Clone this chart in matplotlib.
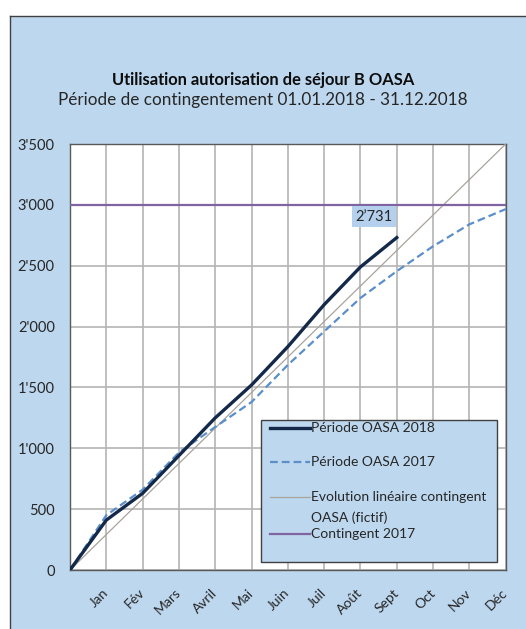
import numpy as np
import matplotlib
matplotlib.use('Agg')
import matplotlib.pyplot as plt
from matplotlib.lines import Line2D
from matplotlib.ticker import FuncFormatter

# values (month index 0 = start, 1 = Jan ... 12 = Dec)
months = ['Jan', 'Fév', 'Mars', 'Avril', 'Mai', 'Juin', 'Juil', 'Août', 'Sept', 'Oct', 'Nov', 'Déc']
oasa_2018 = [0, 410, 630, 940, 1250, 1520, 1835, 2180, 2490, 2731]
oasa_2017 = [0, 450, 660, 965, 1175, 1380, 1685, 1960, 2235, 2455, 2660, 2840, 2965]
lineaire_x = [0, 12]
lineaire_y = [0, 3500]
contingent = 3000

BG = '#BDD7EE'
TXT = '#262626'
plt.rcParams['font.family'] = ['Lato', 'DejaVu Sans']

W, H = 526, 629
fig = plt.figure(figsize=(W/100, H/100), dpi=100)
fig.patch.set_facecolor('white')

def fx(px):
    return px / W

def fy(py):
    return 1 - py / H

# outer chart frame (only left/top edges visible in the crop)
fig.patches.append(plt.Rectangle((fx(10), 0), 1, fy(16), transform=fig.transFigure,
                                 facecolor=BG, edgecolor='none', zorder=-5))
fig.add_artist(Line2D([fx(10), fx(10)], [0, fy(16)], transform=fig.transFigure, color='#404040', lw=1, zorder=-4))
fig.add_artist(Line2D([fx(10), 1], [fy(16), fy(16)], transform=fig.transFigure, color='#404040', lw=1, zorder=-4))

ax = fig.add_axes([fx(70), 59/H, 435.7/W, 426/H])
ax.set_facecolor('white')

x18 = np.arange(len(oasa_2018))
x17 = np.arange(len(oasa_2017))

styles = {
    'Période OASA 2018': dict(color='#14294A', lw=2.4),
    'Période OASA 2017': dict(color='#5B8FCC', lw=1.6, ls=(0, (3.5, 1.8))),
    'lin': dict(color='#A8A49C', lw=0.9),
    'Contingent 2017': dict(color='#8064A2', lw=1.6),
}

ax.plot(lineaire_x, lineaire_y, zorder=3, **styles['lin'])
ax.axhline(contingent, zorder=3, **styles['Contingent 2017'])
ax.plot(x17, oasa_2017, zorder=4, **styles['Période OASA 2017'])
ax.plot(x18, oasa_2018, zorder=5, **styles['Période OASA 2018'])

ax.set_xlim(0, 12)
ax.set_ylim(0, 3500)
ax.set_xticks(range(1, 13))
ax.set_xticklabels(months, rotation=45, ha='right', va='center', rotation_mode='anchor',
                   fontsize=10, color=TXT)
ax.set_yticks(range(0, 3501, 500))
ax.yaxis.set_major_formatter(FuncFormatter(lambda v, p: f"{int(v):,}".replace(',', "'")))
ax.tick_params(axis='y', labelsize=10.5, colors=TXT, length=0, pad=11)
ax.tick_params(axis='x', length=0, pad=15)
ax.grid(True, color='#B4B4B4', lw=1.2, zorder=1)
ax.set_axisbelow(True)
for s in ax.spines.values():
    s.set_color('#595959')
    s.set_linewidth(1)

# end label
ax.annotate("2\u2019731", (x18[-1], oasa_2018[-1]), xytext=(-23, 21), textcoords='offset pixels',
            ha='center', va='center', fontsize=10.5, color=TXT,
            bbox=dict(boxstyle='square,pad=0.25', facecolor='#B4D0EC', edgecolor='none'))

fig.text(0.5, fy(80), 'Utilisation autorisation de séjour B OASA', ha='center', va='center',
         fontsize=11.9, fontweight='bold', color='#0d0d0d')
fig.text(0.5, fy(100), 'Période de contingentement 01.01.2018 - 31.12.2018', ha='center', va='center',
         fontsize=12.3, color=TXT)

# legend box drawn like the Excel one (uneven row spacing)
fig.add_artist(plt.Rectangle((fx(261), fy(562)), fx(497) - fx(261), fy(420) - fy(562),
                             transform=fig.transFigure, facecolor=BG, edgecolor='#404040', lw=1, zorder=10))
leg_rows = [
    ('Période OASA 2018', styles['Période OASA 2018'], 428),
    ('Période OASA 2017', styles['Période OASA 2017'], 462),
    ('Evolution linéaire contingent', styles['lin'], 497),
    ('Contingent 2017', styles['Contingent 2017'], 534),
]
for label, st, yy in leg_rows:
    fig.add_artist(Line2D([fx(270), fx(310)], [fy(yy), fy(yy)], transform=fig.transFigure, zorder=11, **st))
    fig.text(fx(311), fy(yy), label, ha='left', va='center', fontsize=10, color=TXT, zorder=11)
fig.text(fx(311), fy(518), 'OASA (fictif)', ha='left', va='center', fontsize=10, color=TXT, zorder=11)

fig.savefig('out.png', dpi=100, facecolor=fig.get_facecolor())
